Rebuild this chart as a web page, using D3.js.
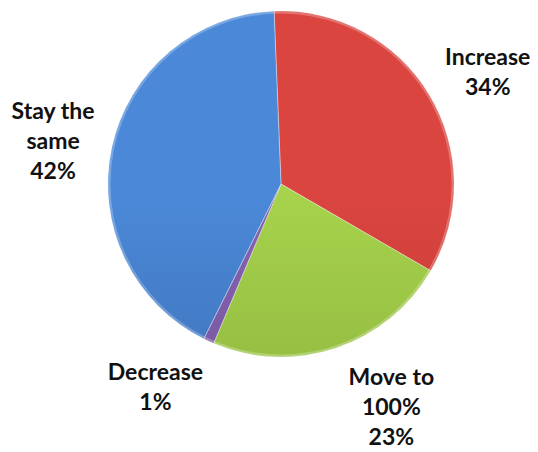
<!DOCTYPE html>
<html lang="en">
<head>
    <meta charset="UTF-8">
    <title>Pie</title>
    <style>
        body { margin: 0; background: #fff; }
        svg { display: block; }
    </style>
</head>
<body>
<script src="https://cdn.jsdelivr.net/npm/d3@7"></script>
<script>
    // data
    const categories = ["Increase", "Move to 100%", "Decrease", "Stay the same"];
    const labelLines = [["Increase"], ["Move to", "100%"], ["Decrease"], ["Stay the", "same"]];
    const percents = [34, 23, 1, 42];
    const topColors = ["#da4540", "#a6d24c", "#8563b0", "#4b89d8"];
    const bottomColors = ["#b6332f", "#86ab38", "#6e4e98", "#3866a8"];

    // layout
    const width = 538, height = 452;
    const cx = 281, cy = 184, radius = 173;
    const startOffset = -2.3 * Math.PI / 180;
    // Excel pushes the labels apart a little: angle nudge (deg) and distance
    const labelNudge = [2.7, -7.8, 7, -1.4];
    const labelRadius = [235, 249, 239, 232];
    const lineHeight = 30;

    const svg = d3.select("body").append("svg")
        .attr("width", width)
        .attr("height", height);

    const defs = svg.append("defs");
    categories.forEach((c, i) => {
        const g = defs.append("linearGradient")
            .attr("id", "grad" + i)
            .attr("gradientUnits", "userSpaceOnUse")
            .attr("x1", 0).attr("y1", cy - radius)
            .attr("x2", 0).attr("y2", cy + radius);
        g.append("stop").attr("offset", "0%").attr("stop-color", topColors[i]);
        g.append("stop").attr("offset", "100%").attr("stop-color", bottomColors[i]);
    });

    const pie = d3.pie()
        .sort(null)
        .startAngle(startOffset)
        .endAngle(startOffset + 2 * Math.PI);
    const arcs = pie(percents);

    const arc = d3.arc().innerRadius(0).outerRadius(radius);

    const g = svg.append("g").attr("transform", `translate(${cx},${cy})`);

    g.selectAll("path.slice")
        .data(arcs)
        .enter()
        .append("path")
        .attr("class", "slice")
        .attr("d", arc)
        .attr("fill", (d, i) => `url(#grad${i})`)
        .attr("stroke", "rgba(255,255,255,0.35)")
        .attr("stroke-width", 1);

    // soft rim highlight
    g.append("circle")
        .attr("r", radius - 1.5)
        .attr("fill", "none")
        .attr("stroke", "rgba(255,255,255,0.25)")
        .attr("stroke-width", 2);

    const labels = g.selectAll("text.lbl")
        .data(arcs)
        .enter()
        .append("text")
        .attr("class", "lbl")
        .attr("text-anchor", "middle")
        .style("font-family", "Lato, 'Open Sans', sans-serif")
        .style("font-weight", "bold")
        .style("font-size", "23px")
        .attr("fill", "#111")
        .attr("transform", (d, i) => {
            const a = (d.startAngle + d.endAngle) / 2 + labelNudge[i] * Math.PI / 180;
            const r = labelRadius[i];
            return `translate(${r * Math.sin(a)},${-r * Math.cos(a)})`;
        });

    labels.each(function (d, i) {
        const lines = labelLines[i].concat([percents[i] + "%"]);
        const n = lines.length;
        const t = d3.select(this);
        lines.forEach((s, k) => {
            t.append("tspan")
                .attr("x", 0)
                .attr("y", (k - (n - 1) / 2) * lineHeight)
                .attr("dy", "0.35em")
                .text(s);
        });
    });
</script>
</body>
</html>
